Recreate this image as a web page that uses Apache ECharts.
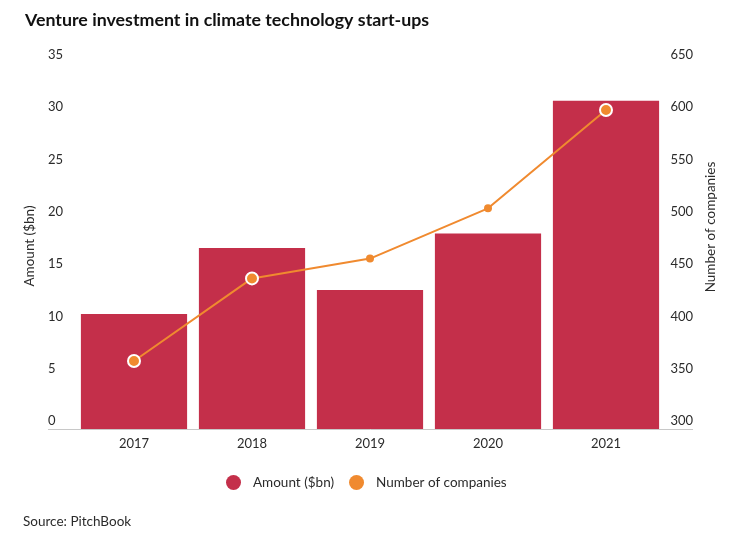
<!DOCTYPE html>
<html>
<head>
<meta charset="utf-8">
<script src="https://cdn.jsdelivr.net/npm/echarts@6/dist/echarts.min.js"></script>
<style>
html,body{margin:0;padding:0;background:#fff;}
#chart{width:750px;height:538px;}
</style>
</head>
<body>
<div id="chart"></div>
<script>
var years = ['2017', '2018', '2019', '2020', '2021'];
var amount = [11.0, 17.3, 13.3, 18.7, 31.4];
var companies = [365, 444, 463, 511, 605];
var amountTicks = [0, 35, 5];
var companyTicks = [300, 650, 50];

var RED = '#C42F4A';
var ORANGE = '#F08A2F';
var FONT = 'Lato, "Noto Sans", sans-serif';
var TXT = '#2b2b2b';

// points that sit inside a bar get a white ring
var lineData = companies.map(function (v, i) {
  var inside = (v - companyTicks[0]) / (companyTicks[1] - companyTicks[0]) <
               (amount[i] - amountTicks[0]) / (amountTicks[1] - amountTicks[0]);
  return inside ? {
    value: v, symbolSize: 12,
    itemStyle: { color: ORANGE, borderColor: '#fff', borderWidth: 2 }
  } : {
    value: v, symbolSize: 8,
    itemStyle: { color: ORANGE, borderWidth: 0 }
  };
});

var chart = echarts.init(document.getElementById('chart'), null, { renderer: 'canvas' });
var labelBase = {
  color: TXT, fontFamily: FONT, fontSize: 13,
  verticalAlign: 'bottom', lineHeight: 14, padding: [0, 0, 1, 0]
};
chart.setOption({
  animation: false,
  backgroundColor: '#fff',
  title: {
    text: 'Venture investment in climate technology start-ups',
    left: 20, top: 6,
    textStyle: { fontFamily: FONT, fontWeight: 'bold', fontSize: 17.8, color: '#111' }
  },
  grid: { left: 75, right: 85, top: 63, bottom: 109 },
  legend: {
    left: 221, top: 470,
    itemWidth: 15, itemHeight: 15, itemGap: 15,
    icon: 'circle',
    textStyle: { fontFamily: FONT, fontSize: 13.5, color: TXT, padding: [0, 0, 0, 7] },
    data: ['Amount ($bn)', 'Number of companies']
  },
  xAxis: {
    type: 'category',
    data: years,
    axisLine: { show: false },
    axisTick: { show: false },
    axisLabel: { color: TXT, fontFamily: FONT, fontSize: 13, margin: 8 }
  },
  yAxis: [{
    type: 'value',
    min: amountTicks[0], max: amountTicks[1], interval: amountTicks[2],
    name: 'Amount ($bn)', nameLocation: 'middle', nameGap: 38,
    nameTextStyle: { color: TXT, fontFamily: FONT, fontSize: 13.5 },
    axisLine: { show: false }, axisTick: { show: false },
    splitLine: { show: false },
    axisLabel: Object.assign({ align: 'left', margin: 27 }, labelBase)
  }, {
    type: 'value',
    min: companyTicks[0], max: companyTicks[1], interval: companyTicks[2],
    name: 'Number of companies', nameLocation: 'middle', nameGap: 38,
    nameTextStyle: { color: TXT, fontFamily: FONT, fontSize: 13.5, padding: [0, 0, 0, 38] },
    axisLine: { show: false }, axisTick: { show: false },
    splitLine: { show: false },
    axisLabel: Object.assign({ align: 'right', margin: 28 }, labelBase)
  }],
  graphic: [{
    type: 'line',
    shape: { x1: 48, y1: 429.5, x2: 693, y2: 429.5 },
    style: { stroke: '#c8c8c8', lineWidth: 1 },
    z: 10
  }, {
    type: 'text',
    left: 23, top: 515,
    style: { text: 'Source: PitchBook', fill: TXT, font: '13.5px ' + FONT }
  }],
  series: [{
    name: 'Amount ($bn)',
    type: 'bar',
    yAxisIndex: 0,
    data: amount,
    barCategoryGap: '10%',
    itemStyle: { color: RED },
    z: 2
  }, {
    name: 'Number of companies',
    type: 'line',
    yAxisIndex: 1,
    data: lineData,
    symbol: 'circle',
    lineStyle: { color: ORANGE, width: 2 },
    itemStyle: { color: ORANGE },
    z: 3
  }]
});
</script>
</body>
</html>
